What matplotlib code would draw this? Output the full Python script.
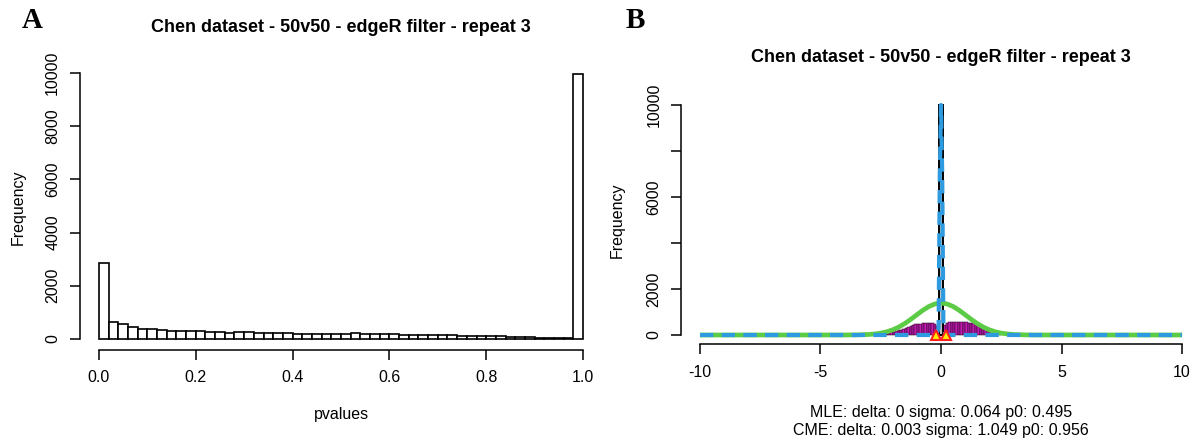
import numpy as np
import matplotlib
matplotlib.use("Agg")
import matplotlib.pyplot as plt

plt.rcParams['font.family'] = ['Liberation Sans', 'DejaVu Sans']

# ---- datos panel A: histograma de p-valores (50 bins de 0.02) ----
pval_counts = [2850, 620, 570, 440, 360, 390, 355, 295, 295, 300,
               290, 265, 262, 230, 248, 245, 238, 215, 225, 222,
               205, 200, 198, 192, 190, 188, 210, 205, 185, 185,
               182, 165, 162, 160, 150, 140, 138, 128, 130, 125,
               110, 100, 90, 75, 60, 50, 45, 38, 22, 9980]
pval_ticks = [0.0, 0.2, 0.4, 0.6, 0.8, 1.0]
pval_ticklabels = ['0.0', '0.2', '0.4', '0.6', '0.8', '1.0']
freq_ticks = [0, 2000, 4000, 6000, 8000, 10000]

# ---- datos panel B ----
# histograma magenta (bins de 0.1 desde -2.5 a 2.5), el centro lo tapa el pico
z_counts = [10, 30, 60, 90, 120, 150, 180, 200, 230, 280,
            320, 360, 400, 430, 460, 480, 500, 515, 530, 540,
            535, 520, 470, 400, 0, 0, 420, 520, 575, 580,
            575, 570, 565, 560, 555, 550, 540, 525, 505, 480,
            450, 410, 370, 330, 290, 240, 190, 140, 90, 40]
spike_left = -0.1
spike_width = 0.2
spike_height = 10000

# curva CME (verde)
cme_x = [-10, -4, -3.5, -3.0, -2.75, -2.5, -2.25, -2.0, -1.75, -1.5, -1.25, -1.0,
         -0.75, -0.5, -0.25, 0.0, 0.25, 0.5, 0.75, 1.0, 1.25, 1.5, 1.75, 2.0,
         2.25, 2.5, 2.75, 3.0, 3.5, 4, 10]
cme_y = [0, 1, 5, 23, 45, 81, 139, 226, 346, 500, 683, 882,
         1077, 1241, 1351, 1390, 1351, 1241, 1077, 882, 683, 500, 346, 226,
         139, 81, 45, 23, 5, 1, 0]

# curva MLE (azul discontinua)
mle_x = [-10, -0.2, -0.1, -0.05, 0.0, 0.05, 0.1, 0.2, 10]
mle_y = [0, 0, 300, 7000, 10000, 7000, 300, 0, 0]

# triangulos
tri_x = [-0.2, 0.2]
tri_y = [0, 0]

z_ticks = [-10, -5, 0, 5, 10]
z_ticklabels = ['-10', '-5', '0', '5', '10']
freqB_ticklabels = ['0', '2000', '', '6000', '', '10000']

title = 'Chen dataset - 50v50 - edgeR filter - repeat 3'

W, H = 1198, 441
fig = plt.figure(figsize=(W / 100, H / 100), dpi=100)


def r_style(ax, xb, yb):
    for s in ['top', 'right']:
        ax.spines[s].set_visible(False)
    ax.spines['left'].set_bounds(*yb)
    ax.spines['bottom'].set_bounds(*xb)
    for s in ['left', 'bottom']:
        ax.spines[s].set_linewidth(1.1)
    ax.tick_params(axis='both', length=7, width=1.1, labelsize=11.5)
    ax.tick_params(axis='x', pad=8)
    ax.tick_params(axis='y', pad=7)
    for lab in ax.get_yticklabels():
        lab.set_rotation(90)
        lab.set_va('center')


# ---- Panel A ----
axA = fig.add_axes([0.06644, 0.20726, 0.43639, 0.65125])
edges = np.linspace(0, 1, len(pval_counts) + 1)
axA.bar(edges[:-1], pval_counts, width=edges[1] - edges[0], align='edge',
        facecolor='white', edgecolor='black', linewidth=1.2)
axA.set_xlim(-0.04, 1.04)
axA.set_ylim(-400, 10400)
axA.set_xticks(pval_ticks)
axA.set_xticklabels(pval_ticklabels)
axA.set_yticks(freq_ticks)
axA.set_yticklabels([str(t) for t in freq_ticks])
r_style(axA, (0, 1), (0, 10000))

# ---- Panel B ----
axB = fig.add_axes([0.56820, 0.21950, 0.43456, 0.56327])
zedges = np.linspace(-2.5, 2.5, len(z_counts) + 1)
axB.bar(zedges[:-1], z_counts, width=zedges[1] - zedges[0], align='edge',
        facecolor='#c21cb0', edgecolor='#1a0018', linewidth=0.35)
axB.plot(cme_x, cme_y, color='#5ccb45', linewidth=3.4, solid_capstyle='butt')
axB.bar([spike_left], [spike_height], width=spike_width, align='edge',
        facecolor='#c4c4c4', edgecolor='black', linewidth=1.4)
axB.plot(mle_x, mle_y, color='#2e9be0', linewidth=3.0, linestyle=(0, (3.2, 2.0)))
axB.plot(tri_x, tri_y, linestyle='none', marker='^', markersize=7,
         markerfacecolor='#ffee00', markeredgecolor='#ff2020', markeredgewidth=1.5,
         clip_on=False)
axB.set_xlim(-10.8, 10.8)
axB.set_ylim(-400, 10400)
axB.set_xticks(z_ticks)
axB.set_xticklabels(z_ticklabels)
axB.set_yticks(freq_ticks)
axB.set_yticklabels(freqB_ticklabels)
r_style(axB, (-10, 10), (0, 10000))


def ftext(x, y, s, **kw):
    fig.text(x / W, 1 - y / H, s, ha='center', va='center', **kw)


ftext(341, 27, title, fontsize=13, fontweight='bold')
ftext(941, 57, title, fontsize=13, fontweight='bold')
ftext(18, 207, 'Frequency', fontsize=11.5, rotation=90)
ftext(617, 220, 'Frequency', fontsize=11.5, rotation=90)
ftext(341, 415, 'pvalues', fontsize=11.5)
ftext(941, 412, 'MLE: delta: 0 sigma: 0.064 p0: 0.495', fontsize=11.5)
ftext(941, 430, 'CME: delta: 0.003 sigma: 1.049 p0: 0.956', fontsize=11.5)
ftext(32, 20, 'A', fontsize=21, fontweight='bold', family='Liberation Serif')
ftext(635, 20, 'B', fontsize=21, fontweight='bold', family='Liberation Serif')

fig.savefig('out.png', dpi=100)
